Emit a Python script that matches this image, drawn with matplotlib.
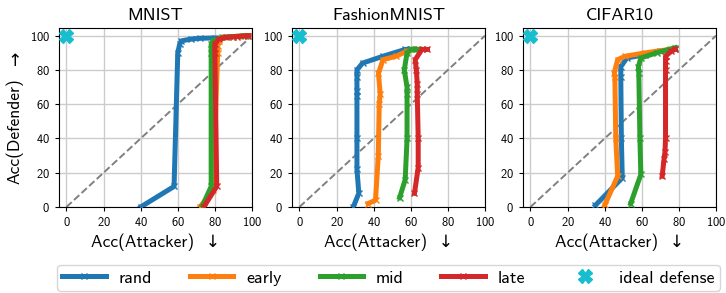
import matplotlib
matplotlib.use("Agg")
import matplotlib.pyplot as plt

plt.rcParams["font.family"] = ["cmss10", "DejaVu Sans"]
plt.rcParams["mathtext.fontset"] = "cm"
plt.rcParams["axes.formatter.use_mathtext"] = True

datasets = ["MNIST", "FashionMNIST", "CIFAR10"]
series_names = ["rand", "early", "mid", "late"]
series_colors = ["tab:blue", "tab:orange", "tab:green", "tab:red"]

# MNIST
mnist_rand_x = [40, 58, 60, 61, 62, 67, 72, 80]
mnist_rand_y = [0, 12, 90, 95, 97, 98, 98.5, 98.7]
mnist_early_x = [72, 79, 81.5, 81.5, 82, 85, 90, 95, 98]
mnist_early_y = [0, 10, 90, 94, 97, 99, 99.5, 99.8, 100]
mnist_mid_x = [73, 78, 78, 78, 79, 84, 90, 96]
mnist_mid_y = [0, 12, 90, 95, 97, 99, 99.5, 100]
mnist_late_x = [74, 81, 80, 80, 82, 86, 92, 98]
mnist_late_y = [0, 12, 90, 95, 98, 99, 99.5, 100]

# FashionMNIST
fmnist_rand_x = [29, 32, 31, 31, 31, 31, 31, 31, 34, 45, 57, 60]
fmnist_rand_y = [0, 8, 22, 40, 65, 68, 76, 80, 84, 88, 92, 92]
fmnist_early_x = [37, 41, 42.5, 43, 43.5, 42.6, 45, 52, 58, 62]
fmnist_early_y = [2, 4, 30, 60, 66, 78, 86, 88, 91, 92]
fmnist_mid_x = [54, 57, 58, 58, 58, 56.5, 58, 60, 64]
fmnist_mid_y = [5.5, 16, 40, 66, 70, 80, 90, 92, 92]
fmnist_late_x = [62, 64, 64, 63.5, 63.5, 63, 62.4, 66, 69]
fmnist_late_y = [8, 23, 40, 66, 72, 80, 86, 92, 92]

# CIFAR10
cifar_rand_x = [35, 49.5, 49, 48.7, 48.7, 52, 62, 70, 78]
cifar_rand_y = [1, 17, 40, 76, 82, 87, 89, 91, 92]
cifar_early_x = [40, 47, 46, 45.5, 45.2, 47, 51, 62, 75]
cifar_early_y = [1, 18, 40, 76, 78.5, 86, 88, 90, 92]
cifar_mid_x = [54, 59.5, 59, 58.4, 58.2, 59.5, 68, 78]
cifar_mid_y = [2, 19, 40, 78, 82, 87, 90, 93]
cifar_late_x = [71, 72, 72.5, 72.8, 72.8, 72.8, 72.8, 76, 78]
cifar_late_y = [18, 28, 32, 40, 80, 85, 88, 91, 92]

all_x = [
    [mnist_rand_x, mnist_early_x, mnist_mid_x, mnist_late_x],
    [fmnist_rand_x, fmnist_early_x, fmnist_mid_x, fmnist_late_x],
    [cifar_rand_x, cifar_early_x, cifar_mid_x, cifar_late_x],
]
all_y = [
    [mnist_rand_y, mnist_early_y, mnist_mid_y, mnist_late_y],
    [fmnist_rand_y, fmnist_early_y, fmnist_mid_y, fmnist_late_y],
    [cifar_rand_y, cifar_early_y, cifar_mid_y, cifar_late_y],
]

ideal_x = [0]
ideal_y = [100]
ticks = [0, 20, 40, 60, 80, 100]

W, H = 726, 293
fig = plt.figure(figsize=(W / 100, H / 100), dpi=100)
lefts = [59, 292, 523]
axw, bot, top = 193, 207, 28

handles = []
for i, name in enumerate(datasets):
    ax = fig.add_axes([lefts[i] / W, (H - bot) / H, axw / W, (bot - top) / H])
    ax.grid(True, color="#cccccc", lw=1.0)
    ax.set_axisbelow(True)
    ax.plot([0, 100], [0, 100], ls="--", color="gray", lw=1.4, zorder=2)
    hs = []
    for j, sname in enumerate(series_names):
        h, = ax.plot(all_x[i][j], all_y[i][j], color=series_colors[j], lw=3.6,
                     marker="x", ms=4.5, mew=1.0, label=sname, zorder=3)
        hs.append(h)
    sc, = ax.plot(ideal_x, ideal_y, ls="none", marker="X", ms=9.5,
                  color="#17becf", label="ideal defense", zorder=4)
    hs.append(sc)
    if i == 0:
        handles = hs
    ax.set_xlim(-4, 100)
    ax.set_ylim(0, 104.5)
    ax.set_xticks(ticks)
    ax.set_yticks(ticks)
    ax.tick_params(labelsize=9, length=3)
    ax.set_title(name, fontsize=13, pad=6)
    ax.set_xlabel("Acc(Attacker)  \u2193", fontsize=12.5, labelpad=3)

# y label (rotated text) with an upright arrow above it
fig.text(15 / W, 1 - 131 / H, "Acc(Defender)", rotation=90, fontsize=12.5,
         ha="center", va="center")
fig.text(15 / W, 1 - 61 / H, "\u2191", fontsize=12.5, family="DejaVu Sans",
         ha="center", va="center")

fig.legend(handles=handles, labels=[h.get_label() for h in handles],
           loc="lower left", ncol=5, mode="expand",
           bbox_to_anchor=(57 / W, 2 / H, (720 - 57) / W, 29 / H),
           fontsize=13, numpoints=1, handlelength=2.4, handletextpad=0.7,
           borderpad=0.3, borderaxespad=0.0, frameon=True, fancybox=True)

fig.savefig("out.png", dpi=100)
